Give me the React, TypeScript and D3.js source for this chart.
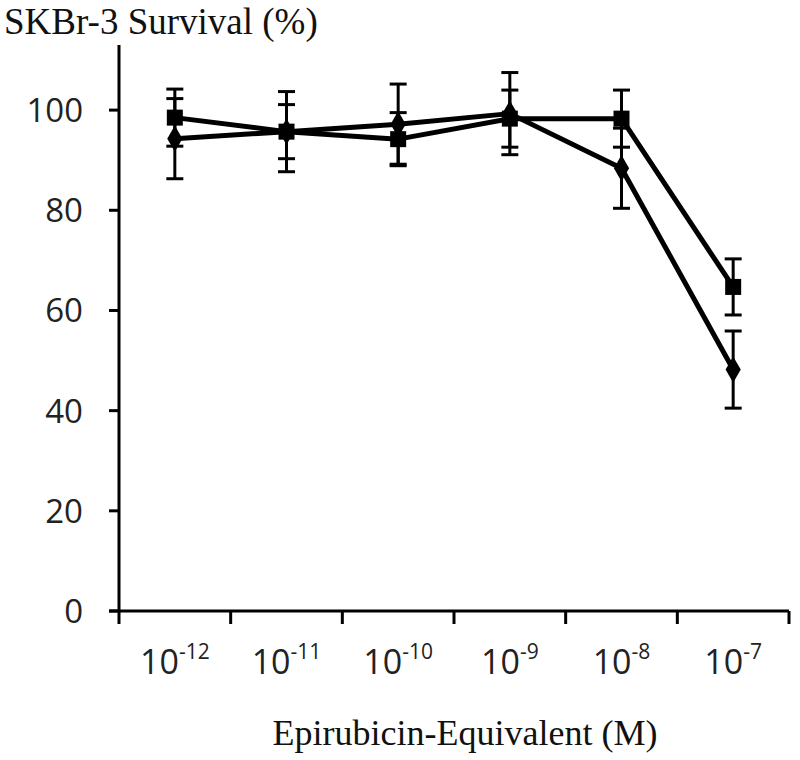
import React, { useEffect, useRef } from 'react';
import * as d3 from 'd3';

// concentration categories (exponents of 10)
const exponents = ['-12', '-11', '-10', '-9', '-8', '-7'];
// square series
const squareValues = [98.5, 95.7, 94.2, 98.3, 98.3, 64.7];
const squareErrors = [5.7, 5.4, 5.3, 5.7, 5.7, 5.6];
// diamond series
const diamondValues = [94.3, 95.7, 97.2, 99.3, 88.4, 48.2];
const diamondErrors = [8.0, 8.0, 8.0, 8.2, 8.0, 7.7];
const yTicks = [0, 20, 40, 60, 80, 100];

const W = 800;
const H = 760;

const App: React.FC = () => {
  const svgRef = useRef<SVGSVGElement>(null);

  useEffect(() => {
    if (!svgRef.current) return;
    const svg = d3.select(svgRef.current);
    svg.selectAll('*').remove();

    const margin = { top: 45, right: 11, bottom: 149, left: 119 };
    const x = d3.scaleBand<string>()
      .domain(exponents)
      .range([margin.left, W - margin.right])
      .paddingInner(0).paddingOuter(0);
    const y = d3.scaleLinear().domain([0, 113]).range([H - margin.bottom, margin.top]);
    const cx = (e: string) => (x(e) as number) + x.bandwidth() / 2;
    const y0 = y(0);

    const g = svg.append('g');

    // y axis
    g.append('line')
      .attr('x1', margin.left).attr('x2', margin.left)
      .attr('y1', margin.top).attr('y2', y0 + 1.5)
      .attr('stroke', '#000').attr('stroke-width', 3);
    g.selectAll('.ytick').data(yTicks).enter().append('line')
      .attr('x1', margin.left - 10).attr('x2', margin.left)
      .attr('y1', d => y(d)).attr('y2', d => y(d))
      .attr('stroke', '#000').attr('stroke-width', 3);
    g.selectAll('.ylab').data(yTicks).enter().append('text')
      .attr('x', 83).attr('y', d => y(d))
      .attr('dy', '0.36em')
      .attr('text-anchor', 'end')
      .attr('font-family', '"Open Sans", sans-serif')
      .attr('font-size', 33)
      .attr('fill', '#222')
      .text(d => d);

    // x axis
    g.append('line')
      .attr('x1', margin.left - 10).attr('x2', W - margin.right)
      .attr('y1', y0).attr('y2', y0)
      .attr('stroke', '#000').attr('stroke-width', 3);
    const xTickPos = exponents.map(e => (x(e) as number)).concat([W - margin.right]);
    g.selectAll('.xtick').data(xTickPos).enter().append('line')
      .attr('x1', d => d).attr('x2', d => d)
      .attr('y1', y0).attr('y2', y0 + 13)
      .attr('stroke', '#000').attr('stroke-width', 3);
    const xl = g.selectAll('.xlab').data(exponents).enter().append('text')
      .attr('x', d => cx(d)).attr('y', 674)
      .attr('text-anchor', 'middle')
      .attr('font-family', '"Open Sans", sans-serif')
      .attr('font-size', 34)
      .attr('fill', '#222');
    xl.append('tspan').text('10');
    xl.append('tspan').attr('dy', -15).attr('font-size', 21).text(d => d);

    // titles
    g.append('text')
      .attr('x', 4).attr('y', 34)
      .attr('font-family', '"Liberation Serif", "Times New Roman", serif')
      .attr('font-size', 37)
      .attr('fill', '#111')
      .text('SKBr-3 Survival (%)');
    g.append('text')
      .attr('x', 465).attr('y', 745)
      .attr('text-anchor', 'middle')
      .attr('font-family', '"Liberation Serif", "Times New Roman", serif')
      .attr('font-size', 36)
      .attr('fill', '#111')
      .text('Epirubicin-Equivalent (M)');

    const series = [
      { values: squareValues, errors: squareErrors, shape: 'square' },
      { values: diamondValues, errors: diamondErrors, shape: 'diamond' },
    ];

    // error bars
    series.forEach(s => {
      exponents.forEach((e, i) => {
        const px = cx(e);
        const hi = y(s.values[i] + s.errors[i]);
        const lo = y(s.values[i] - s.errors[i]);
        g.append('line').attr('x1', px).attr('x2', px).attr('y1', hi).attr('y2', lo)
          .attr('stroke', '#000').attr('stroke-width', 3);
        [hi, lo].forEach(v => {
          g.append('line').attr('x1', px - 8.5).attr('x2', px + 8.5).attr('y1', v).attr('y2', v)
            .attr('stroke', '#000').attr('stroke-width', 3);
        });
      });
    });

    // lines
    const line = d3.line<number>()
      .x((_, i) => cx(exponents[i]))
      .y(d => y(d));
    series.forEach(s => {
      g.append('path')
        .datum(s.values)
        .attr('d', line)
        .attr('fill', 'none')
        .attr('stroke', '#000')
        .attr('stroke-width', 5)
        .attr('stroke-linejoin', 'round');
    });

    // markers
    series.forEach(s => {
      const sym = d3.symbol()
        .type(s.shape === 'square' ? d3.symbolSquare : d3.symbolDiamond)
        .size(s.shape === 'square' ? 256 : 200);
      g.selectAll(null).data(s.values).enter().append('path')
        .attr('d', sym() as string)
        .attr('transform', (d, i) => `translate(${cx(exponents[i])},${y(d)})`)
        .attr('fill', '#000');
    });
  }, []);

  return (
    <svg
      ref={svgRef}
      width={W}
      height={H}
      style={{ position: 'absolute', left: 0, top: 0, background: '#fff' }}
    />
  );
};

export default App;
